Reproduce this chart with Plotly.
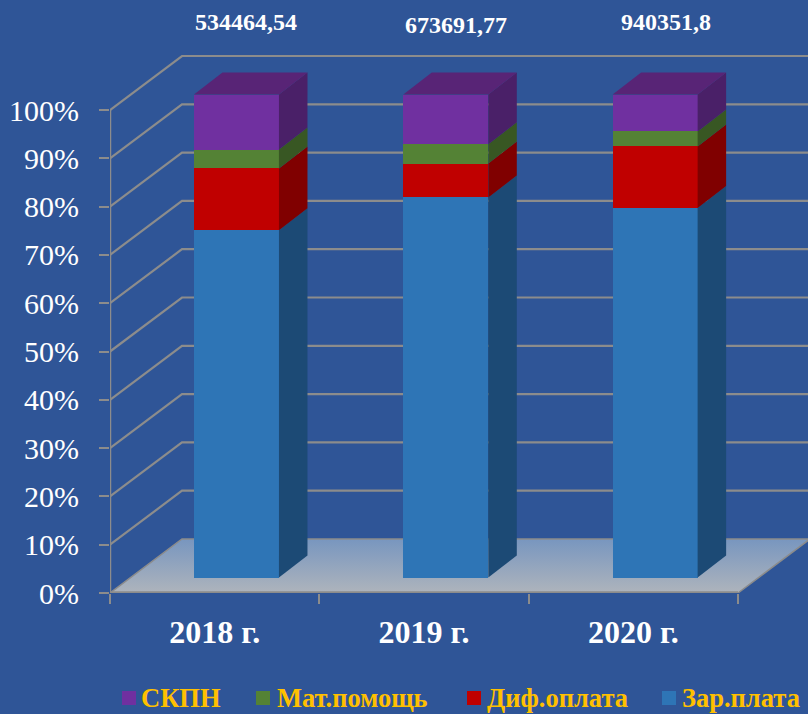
import plotly.graph_objects as go

# ---------- data ----------
categories = ["2018 г.", "2019 г.", "2020 г."]
totals = ["534464,54", "673691,77", "940351,8"]
series_names = ["Зар.плата", "Диф.оплата", "Мат.помощь", "СКПН"]
salary = [71.9, 78.7, 76.5]
diff_pay = [12.8, 7.0, 12.75]
aid = [3.9, 4.0, 3.1]
skpn = [11.4, 10.3, 7.65]
percent_ticks = list(range(0, 101, 10))

# ---------- styles / geometry ----------
W, H = 808, 714
BG = "#2F5597"
GRID = "#8C8C8C"
FONT = "Liberation Serif"
front = ["#2E75B6", "#C00000", "#548235", "#7030A0"]
side = ["#1C4A75", "#800000", "#385723", "#4A2068"]
top_colour = "#582476"

AX_L, AX_B = 110, 593        # pixel of the axes origin
PX_X = 209.33                # px per category
PX_Y = 4.83                  # px per percent
X_MAX = (W - AX_L) / PX_X
Y_MAX = AX_B / PX_Y

def dx(px): return px / PX_X
def dy(px): return px / PX_Y

WALL_X, WALL_Y = dx(72), dy(54)     # depth of floor
BAR_W = dx(85)
BAR_SHIFT_X = dx(21.8)              # shift of bar front from the slot centre
BAR_LIFT = dy(15.5)                 # lift of bar front above the front floor edge
BAR_DX, BAR_DY = dx(28.5), dy(22)   # depth of a bar

fig = go.Figure()

# floor
fig.add_trace(go.Scatter(
    x=[0, 3, 3 + WALL_X, WALL_X, 0], y=[0, 0, WALL_Y, WALL_Y, 0],
    mode="lines", fill="toself", line=dict(color=GRID, width=1.5),
    fillgradient=dict(type="vertical",
                      colorscale=[[0, "#AEB4BC"], [1, "#7896BF"]]),
    hoverinfo="skip", showlegend=False, cliponaxis=False))

# grid lines: front-left edge, then along back wall
for p in percent_ticks[1:]:
    fig.add_trace(go.Scatter(
        x=[0, WALL_X, X_MAX], y=[p, p + WALL_Y, p + WALL_Y],
        mode="lines", line=dict(color=GRID, width=2.2),
        hoverinfo="skip", showlegend=False))

# axis lines
fig.add_trace(go.Scatter(x=[0, 0], y=[0, 100], mode="lines",
                         line=dict(color=GRID, width=2.5),
                         hoverinfo="skip", showlegend=False, cliponaxis=False))
fig.add_trace(go.Scatter(x=[0, 3], y=[0, 0], mode="lines",
                         line=dict(color=GRID, width=3.5),
                         hoverinfo="skip", showlegend=False, cliponaxis=False))

# bars on an overlay pair of axes so they cover the grid
values = [salary, diff_pay, aid, skpn]
slots = [i + 0.5 + BAR_SHIFT_X for i in range(len(categories))]
bases = [BAR_LIFT] * len(categories)
for name, vals, fc, sc in zip(series_names, values, front, side):
    fig.add_trace(go.Bar(x=slots, y=vals, base=bases, width=BAR_W, name=name,
                         marker=dict(color=fc, line=dict(width=0)),
                         xaxis="x2", yaxis="y2", showlegend=False,
                         customdata=categories,
                         hovertemplate="%{customdata}: %{y}%<extra>" + name + "</extra>"))
    for s, b, v in zip(slots, bases, vals):
        r = s + BAR_W / 2
        fig.add_trace(go.Scatter(
            x=[r, r + BAR_DX, r + BAR_DX, r, r],
            y=[b, b + BAR_DY, b + v + BAR_DY, b + v, b],
            mode="lines", fill="toself", fillcolor=sc, line=dict(width=0),
            xaxis="x2", yaxis="y2", hoverinfo="skip", showlegend=False))
    bases = [b + v for b, v in zip(bases, vals)]

# bar tops
for s, b in zip(slots, bases):
    l, r = s - BAR_W / 2, s + BAR_W / 2
    fig.add_trace(go.Scatter(
        x=[l, r, r + BAR_DX, l + BAR_DX, l],
        y=[b, b, b + BAR_DY, b + BAR_DY, b],
        mode="lines", fill="toself", fillcolor=top_colour, line=dict(width=0),
        xaxis="x2", yaxis="y2", hoverinfo="skip", showlegend=False))

annotations = []
# totals above bars
for t, px, py in zip(totals, [246, 456, 666], [22, 25, 22]):
    annotations.append(dict(x=px / W, y=1 - py / H, xref="paper", yref="paper", text=t,
                            showarrow=False, xanchor="center", yanchor="middle",
                            font=dict(family=FONT, size=24, color="white", weight="bold")))

# legend row in its own strip (x in pixels)
LEG_Y = 698
leg_order = [3, 2, 1, 0]
leg_marker_px = [129, 263, 474, 669]
leg_text_px = [139, 275, 485, 680]
for i, mx, tx in zip(leg_order, leg_marker_px, leg_text_px):
    fig.add_trace(go.Scatter(x=[mx], y=[0.5], mode="markers",
                             marker=dict(symbol="square", size=14, color=front[i]),
                             xaxis="x3", yaxis="y3",
                             hoverinfo="skip", showlegend=False))
    annotations.append(dict(x=tx / W, y=1 - LEG_Y / H, xref="paper", yref="paper",
                            text=series_names[i], showarrow=False,
                            xanchor="left", yanchor="middle",
                            font=dict(family=FONT, size=26.5, color="#FFC000", weight="bold")))

x_dom = [AX_L / W, 1]
y_dom = [(H - AX_B) / H, 1]
axis_common = dict(range=[0, X_MAX], domain=x_dom, showgrid=False, zeroline=False, showline=False)
y_common = dict(range=[0, Y_MAX], domain=y_dom, showgrid=False, zeroline=False, showline=False)

fig.update_layout(
    width=W, height=H, autosize=False,
    paper_bgcolor=BG, plot_bgcolor=BG,
    margin=dict(l=0, r=0, t=0, b=0, autoexpand=False),
    showlegend=False, bargap=0, barmode="overlay",
    xaxis=dict(**axis_common,
               tickmode="array", tickvals=[0.5, 1.5, 2.5], ticktext=categories,
               ticks="", ticklabelstandoff=17,
               tickfont=dict(family=FONT, size=32, color="white", weight="bold"),
               minor=dict(tickmode="array", tickvals=[0, 1, 2, 3], ticks="outside",
                          ticklen=10, tickcolor=GRID, tickwidth=1.5)),
    yaxis=dict(**y_common,
               tickmode="array", tickvals=percent_ticks,
               ticktext=[f"{p}%" for p in percent_ticks],
               ticks="outside", ticklen=10, tickcolor=GRID, tickwidth=1.5,
               ticklabelstandoff=14,
               tickfont=dict(family=FONT, size=30, color="white")),
    xaxis2=dict(**axis_common, overlaying="x", visible=False, matches="x"),
    yaxis2=dict(**y_common, overlaying="y", visible=False, matches="y"),
    xaxis3=dict(range=[0, W], domain=[0, 1], anchor="y3", visible=False),
    yaxis3=dict(range=[0, 1], domain=[0, 2 * (H - LEG_Y) / H], anchor="x3", visible=False),
    annotations=annotations,
)

fig.write_html("out.html", config={"displayModeBar": False},
               post_script="document.body.style.margin='0';document.body.style.background='" + BG + "';")
